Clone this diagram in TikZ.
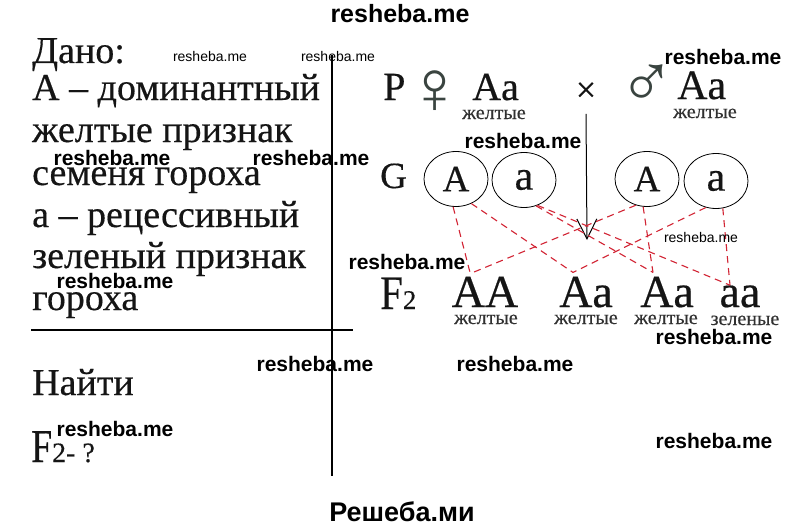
\documentclass[tikz,border=0pt]{standalone}
\usepackage{fontspec}
\setmainfont{Liberation Serif}[FakeBold=0.4]
\newfontfamily\wmfont{Liberation Sans}
\newfontfamily\symfont{Liberation Serif}
\usetikzlibrary{shapes.geometric,arrows.meta}
\newcommand\fs[1]{\fontsize{#1}{#1}\selectfont}
\definecolor{ink}{HTML}{151515}
\definecolor{labink}{HTML}{303030}
\definecolor{symink}{HTML}{3A4440}
\definecolor{gline}{RGB}{210,36,52}
\begin{document}
\begin{tikzpicture}[x=1pt,y=-1pt,
  txt/.style={anchor=base west,inner sep=0pt,font=\fs{38},text=ink},
  lab/.style={anchor=base,inner sep=0pt,font=\fs{20},text=labink},
  geno/.style={anchor=base,inner sep=0pt,font=\fs{46},text=ink},
  gam/.style={draw=black,ellipse,line width=0.8pt,minimum width=64pt,minimum height=55pt,inner sep=0pt,text=ink},
  wmb/.style={inner sep=0pt,font=\wmfont\bfseries\fs{21},text=black},
  wms/.style={inner sep=0pt,font=\wmfont\fs{14},text=black},
  sym/.style={inner sep=0pt,font=\symfont\fs{76},text=symink},
  cross/.style={draw=gline,line width=1.1pt,dash pattern=on 7pt off 5pt},
  rule/.style={draw=black,line width=1.2pt}]
\useasboundingbox (0,0) rectangle (800,527);
\fill[white] (0,0) rectangle (800,527);

% frame lines
\coordinate (vtop) at (332,55);
\coordinate (vbot) at (332,476);
\coordinate (hl) at (31,330);
\coordinate (hr) at (353,330);
\draw[rule] (vtop) -- (vbot);
\draw[rule] (hl) -- (hr);

% left text
\node[txt] (t1) at (32,63) {Дано:};
\node[txt] (t2) at (32,100) {А – доминантный};
\node[txt] (t3) at (32,142) {желтые признак};
\node[txt] (t4) at (32,185) {семеня гороха};
\node[txt] (t5) at (32,227) {а – рецессивный};
\node[txt] (t6) at (32,268) {зеленый признак};
\node[txt] (t7) at (32,310) {гороха};
\node[txt] (t8) at (32,395) {Найти};
\node[txt] (t9) at (31,462) {{\fs{47}\scalebox{0.8}[1]{F}}{\fs{28}2- ?}};

% P row
\node[txt,font=\fs{40}] (P) at (383,100) {P};
\node[sym] (fem) at (435,92) {♀};
\node[txt,font=\fs{40}] (pa1) at (472,100) {Aa};
\node[lab] (pl1) at (494,119) {желтые};
\node[inner sep=0pt,font=\fs{36},text=ink] (cross) at (586,92) {×};
\node[sym] (mal) at (647,86) {♂};
\node[txt,font=\fs{42}] (pa2) at (677,99) {Aa};
\node[lab] (pl2) at (705,118) {желтые};

% arrow
\coordinate (arrtip) at (587,240);
\draw[line width=1pt,-{Straight Barb[length=20pt,width=20pt,line width=1pt]}] ([yshift=-12pt]cross.south) -- (arrtip);

% G row
\node[txt,font=\fs{37}] (G) at (380,188) {G};
\node[gam,font=\fs{37}] (g1) at (456,179) {A};
\node[gam,font=\fs{42}] (g2) at (524,180) {a};
\node[gam,font=\fs{37}] (g3) at (647,179) {A};
\node[gam,font=\fs{42}] (g4) at (716,181) {a};

% F2 row
\node[txt] (F2) at (380,309) {{\fs{48}\scalebox{0.85}[1]{F}}{\fs{27}2}};
\node[geno] (f1) at (485,307) {AA};
\node[geno] (f2) at (586,307) {Aa};
\node[geno] (f3) at (667,307) {Aa};
\node[geno] (f4) at (740,307) {aa};
\node[lab] (fl1) at (486,324) {желтые};
\node[lab] (fl2) at (586,324) {желтые};
\node[lab] (fl3) at (666,324) {желтые};
\node[lab] (fl4) at (745,325) {зеленые};

% crossing lines
\draw[cross] (g1.264) -- ([shift={(-15pt,4pt)}]f1.north);
\draw[cross] (g1.302) -- ([shift={(-13pt,4pt)}]f2.north);
\draw[cross] (g3.247) -- ([shift={(-12pt,4pt)}]f1.north);
\draw[cross] (g4.249) -- ([shift={(-13pt,4pt)}]f2.north);
\draw[cross] (g3.262) -- ([shift={(-14pt,4pt)}]f3.north);
\draw[cross] (g2.295) -- ([shift={(-14pt,4pt)}]f3.north);
\draw[cross] (g2.298) -- ([shift={(-10pt,0pt)}]f4.north);
\draw[cross] (g4.284) -- ([shift={(-10pt,0pt)}]f4.north);

% watermarks
\node[wmb,font=\wmfont\bfseries\fs{25}] (w0) at (400,14) {resheba.me};
\node[wms] (w1) at (210,56) {resheba.me};
\node[wms] (w2) at (338,56) {resheba.me};
\node[wmb] (w3) at (723,57) {resheba.me};
\node[wmb] (w4) at (523,141) {resheba.me};
\node[wmb] (w5) at (112,158) {resheba.me};
\node[wmb] (w6) at (311,158) {resheba.me};
\node[wms] (w7) at (701,237) {resheba.me};
\node[wmb] (w8) at (407,262) {resheba.me};
\node[wmb] (w9) at (115,281) {resheba.me};
\node[wmb] (w10) at (714,337) {resheba.me};
\node[wmb] (w11) at (315,364) {resheba.me};
\node[wmb] (w12) at (515,364) {resheba.me};
\node[wmb] (w13) at (115,429) {resheba.me};
\node[wmb] (w14) at (714,441) {resheba.me};
\node[wmb,font=\wmfont\bfseries\fs{27}] (w15) at (402,512) {Решеба.ми};
\end{tikzpicture}
\end{document}
